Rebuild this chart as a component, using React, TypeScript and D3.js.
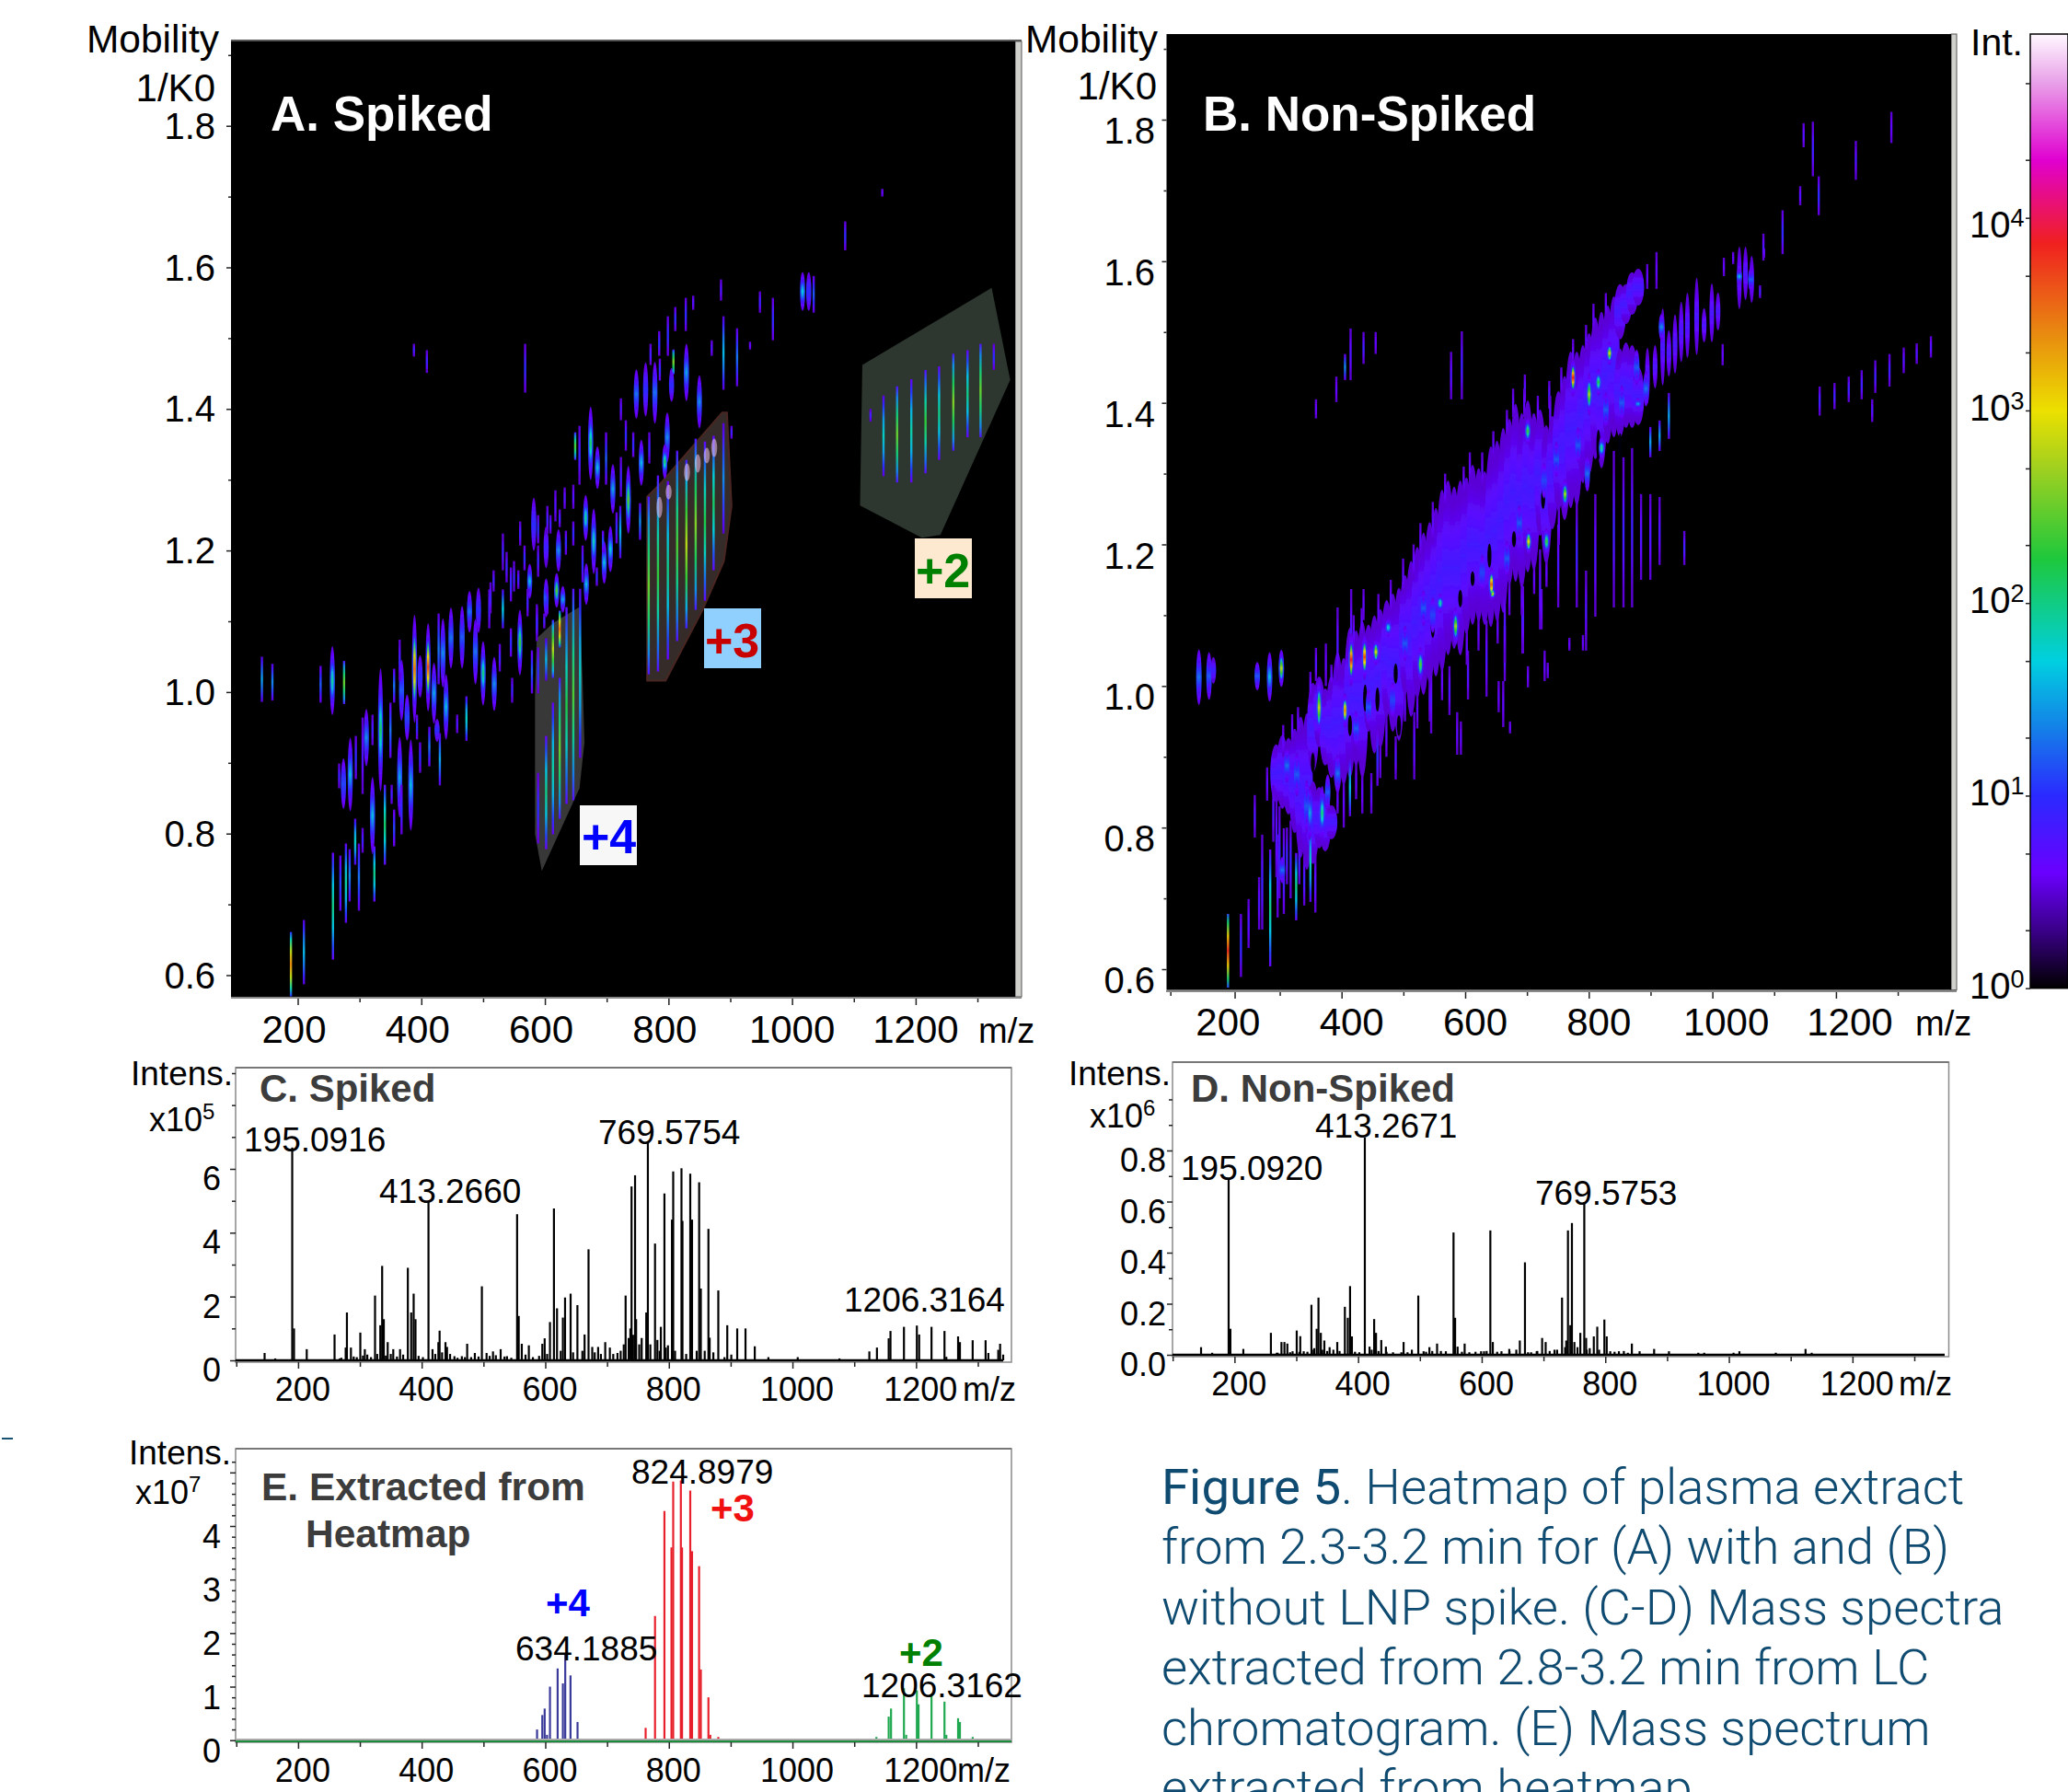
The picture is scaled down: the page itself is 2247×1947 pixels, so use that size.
import { useEffect, useRef } from 'react';
import * as d3 from 'd3';

type Streak = [number, number, number, number]; // m/z, mobility top, mobility bottom, log10 intensity
type Column = [number, number, number]; // m/z, mobility top, mobility bottom
type Peak = [number, number]; // m/z, intensity

// colour bar stops: log10 intensity -> colour
const colorExponents = [0, 0.3, 0.6, 1, 1.35, 1.7, 2.23, 2.7, 3, 3.4, 3.87, 4.3, 4.7, 4.955];
const colorValues = ['#000000', '#3a0088', '#6a00ff', '#2a2aff', '#1480e8', '#00d0e0', '#1ec83c', '#a0d020', '#ece000', '#e88a10', '#f02020', '#e000d0', '#e8a0e8', '#fff8ff'];

const mzLabels = [200, 400, 600, 800, 1000, 1200];
const mzMinor = [300, 500, 700, 900, 1100, 1300];
const mobLabels = [0.6, 0.8, 1.0, 1.2, 1.4, 1.6, 1.8];
const mobMinor = [0.7, 0.9, 1.1, 1.3, 1.5, 1.7, 1.9];

// Panel A, thin streaks
const aLines: Streak[] = [
  [142, 1.05, 0.986, 1.5], [159, 1.04, 0.988, 1.4], [237, 1.037, 0.985, 1.2], [275, 1.044, 0.983, 2.5], [356, 1.033, 0.985, 1.3],
  [350, 0.985, 0.907, 1.3], [365, 1.074, 1.016, 0.9], [393, 0.968, 0.933, 1], [305, 0.964, 0.856, 0.8], [294, 0.938, 0.877, 1],
  [267, 0.899, 0.864, 0.9], [413, 0.951, 0.895, 1.3], [398, 0.929, 0.886, 1], [430, 0.942, 0.868, 1.5], [458, 0.968, 0.942, 0.8],
  [473, 0.994, 0.931, 1.8], [428, 1.111, 1.011, 1.3], [527, 1.068, 1.029, 0.9], [545, 1.09, 1.05, 1], [547, 1.02, 0.985, 0.9],
  [579, 1.059, 0.998, 1.2], [532, 1.145, 1.09, 1.7], [510, 1.145, 1.09, 0.9], [356, 0.834, 0.782, 1.1], [368, 0.869, 0.799, 1],
  [352, 0.869, 0.842, 0.9], [341, 0.869, 0.756, 2.1], [324, 0.782, 0.704, 2], [305, 0.808, 0.773, 0.9], [293, 0.821, 0.756, 1.8],
  [299, 0.786, 0.691, 1.3], [284, 0.778, 0.704, 1.4], [278, 0.786, 0.674, 1.9], [269, 0.769, 0.691, 1.1], [257, 0.773, 0.622, 2],
  [210, 0.678, 0.587, 1.6], [189, 0.661, 0.57, 3.4], [321, 0.968, 0.925, 0.9],
  // charge +4 series
  [589, 1.063, 0.998, 1], [589, 0.886, 0.786, 1], [602, 1.076, 1.016, 1.6], [602, 0.938, 0.778, 2], [613, 1.102, 1.02, 2.8],
  [613, 0.985, 0.799, 1.9], [624, 1.115, 1.063, 3.5], [624, 1.02, 0.821, 2.5], [635, 1.12, 0.842, 2.2], [646, 1.146, 0.847, 2.4], [657, 1.146, 0.907, 1.8],
  // middle and upper band
  [568, 1.492, 1.423, 1], [885, 1.583, 1.553, 0.8], [948, 1.566, 1.536, 0.9], [969, 1.557, 1.497, 1], [870, 1.497, 1.475, 0.8],
  [932, 1.495, 1.484, 0.7], [1035, 1.588, 1.536, 1.2], [889, 1.531, 1.427, 1.6], [911, 1.514, 1.432, 1.3], [828, 1.557, 1.51, 1],
  [840, 1.56, 1.54, 0.8], [811, 1.544, 1.51, 1], [799, 1.531, 1.475, 1], [808, 1.484, 1.449, 2.6], [785, 1.51, 1.475, 1],
  [771, 1.492, 1.462, 0.9], [786, 1.471, 1.44, 1], [723, 1.415, 1.384, 0.8], [731, 1.384, 1.341, 1], [743, 1.367, 1.332, 1],
  [769, 1.367, 1.323, 0.9], [902, 1.376, 1.358, 0.9], [649, 1.367, 1.328, 2.4], [656, 1.376, 1.293, 0.9], [699, 1.367, 1.293, 1.2],
  [723, 1.332, 1.276, 0.9], [754, 1.267, 1.215, 1.4], [722, 1.263, 1.189, 1.6], [646, 1.293, 1.259, 0.8], [632, 1.289, 1.259, 0.8],
  [617, 1.285, 1.241, 0.8], [604, 1.263, 1.224, 0.9], [560, 1.241, 1.207, 0.9], [634, 1.228, 1.194, 1], [567, 1.207, 1.172, 1],
  [589, 1.207, 1.163, 0.9], [532, 1.224, 1.172, 0.9], [517, 1.172, 1.142, 0.9], [557, 1.172, 1.146, 0.9], [587, 1.124, 1.081, 0.9],
  // faint filler between the spots
  [589, 1.25, 1.21, 1], [609, 1.25, 1.224, 0.9], [624, 1.258, 1.233, 0.9], [512, 1.155, 1.111, 0.9], [545, 1.176, 1.128, 1],
  [538, 1.198, 1.155, 0.9], [550, 1.185, 1.142, 0.9], [646, 1.241, 1.207, 1], [661, 1.207, 1.155, 1], [684, 1.176, 1.15, 1],
  [694, 1.228, 1.198, 1.1], [716, 1.254, 1.21, 1], [572, 1.146, 1.107, 0.9], [587, 1.12, 1.072, 0.9], [604, 1.146, 1.11, 1], [599, 1.111, 1.09, 0.9],
  // charge +3 series
  [768, 1.276, 1.025, 2.5], [783, 1.306, 1.029, 2.3], [799, 1.298, 1.046, 2], [814, 1.341, 1.072, 2.4], [829, 1.328, 1.09, 2.8],
  [844, 1.358, 1.116, 2.6], [859, 1.354, 1.129, 2.2], [873, 1.362, 1.172, 2.1], [889, 1.38, 1.224, 1.4],
  // charge +2 series
  [1127, 1.4, 1.382, 0.9], [1148, 1.419, 1.305, 1.8], [1170, 1.432, 1.296, 2.5], [1193, 1.442, 1.296, 1.9], [1216, 1.455, 1.309, 2.3],
  [1238, 1.46, 1.328, 2], [1261, 1.478, 1.341, 2.6], [1284, 1.483, 1.36, 2], [1305, 1.492, 1.36, 2.5], [1326.5, 1.492, 1.455, 1],
  [1086, 1.665, 1.624, 1], [1146, 1.711, 1.7, 0.7], [388, 1.492, 1.474, 0.9], [409, 1.483, 1.451, 0.9],
];

// Panel A, wider spots
const aBlobs: Streak[] = [
  [256, 1.055, 0.977, 1.9], [334, 1.016, 0.877, 2.1], [368, 1.037, 0.968, 1.2], [377, 0.99, 0.938, 1.1], [389, 1.094, 0.972, 3.5],
  [411, 1.085, 0.985, 3.7], [398, 1.046, 0.998, 1], [420.5, 1.033, 0.964, 1.5], [435, 1.094, 1.016, 1.4], [448, 1.111, 1.042, 1.3],
  [440, 1.016, 0.942, 1.6], [425.5, 0.959, 0.933, 1], [466, 1.113, 1.042, 1.2], [478, 1.137, 1.09, 1.3], [492.5, 1.141, 1.09, 1],
  [487.6, 1.094, 1.02, 1.3], [500, 1.063, 0.99, 2], [518, 1.042, 0.981, 1.4], [559.5, 1.107, 1.033, 2.3], [383, 0.92, 0.817, 1.6],
  [365, 0.925, 0.834, 1.5], [321, 0.869, 0.782, 1.6], [311, 0.968, 0.903, 1.4], [285, 0.925, 0.842, 1.6], [274, 0.899, 0.842, 1.1],
  [1017, 1.588, 1.544, 1.7], [1027, 1.588, 1.544, 1], [829, 1.484, 1.419, 1.5], [805, 1.453, 1.415, 1], [778, 1.458, 1.388, 1.3],
  [763, 1.458, 1.397, 1], [748, 1.449, 1.393, 1.3], [850, 1.44, 1.38, 1.4], [798, 1.388, 1.332, 1.4], [794, 1.345, 1.306, 2.1],
  [756, 1.35, 1.298, 1.6], [674, 1.393, 1.31, 2.1], [685, 1.341, 1.293, 1.6], [710, 1.315, 1.259, 1.5], [735, 1.31, 1.233, 2.4],
  [666, 1.272, 1.22, 1.9], [679, 1.25, 1.176, 1.8], [706, 1.228, 1.176, 1.7], [696, 1.207, 1.159, 1.6], [667, 1.176, 1.129, 1.6],
  [582, 1.267, 1.207, 1], [602, 1.228, 1.181, 0.9], [622, 1.224, 1.176, 1.4], [575.4, 1.176, 1.137, 1.6], [602, 1.155, 1.111, 1.2],
  [619, 1.163, 1.124, 2.4], [629, 1.146, 1.116, 1.5],
];

// Pale caps on the +3 series
const aCaps: Streak[] = [
  [785.4, 1.276, 1.246, 4.8], [800.3, 1.293, 1.272, 4.8], [830, 1.323, 1.298, 4.8], [847.4, 1.336, 1.31, 4.8], [862, 1.345, 1.323, 4.8], [874, 1.358, 1.332, 4.8],
];

// Gate outlines in panel A, as m/z and mobility
const gate4: Peak[] = [[586.8, 1.076], [614, 1.098], [656, 1.12], [661, 1.016], [664, 0.929], [656, 0.864], [595, 0.7473], [584, 0.7993], [584, 0.998]];
const gate3: Peak[] = [[765.5, 1.276], [785.4, 1.293], [887, 1.395], [894.6, 1.395], [902, 1.263], [889.6, 1.185], [855, 1.116], [795.3, 1.016], [765.5, 1.016]];
const gate2: Peak[] = [[1113.7, 1.462], [1323, 1.571], [1353, 1.441], [1240, 1.222], [1210, 1.218], [1110, 1.2635]];

// Panel B, the violet cloud
const bCloud: Column[] = [
  [266.7, 0.911, 0.842], [276.6, 0.924, 0.833], [286.5, 0.92, 0.825], [296.5, 0.933, 0.799], [306.4, 0.95, 0.764], [316.3, 0.955, 0.747],
  [326.2, 0.998, 0.885], [326.2, 0.859, 0.755], [336.2, 1.007, 0.92], [336.2, 0.851, 0.777], [346, 0.99, 0.894], [346, 0.842, 0.773],
  [356, 1.007, 0.877], [356, 0.825, 0.79], [366, 1.041, 0.855], [376, 1.033, 0.868], [386, 1.076, 0.877], [396, 1.072, 0.894],
  [406, 1.085, 0.877], [416, 1.08, 0.942], [425.5, 1.093, 0.911], [435.4, 1.102, 0.92], [445.4, 1.115, 0.963], [455.3, 1.124, 0.942],
  [465.2, 1.132, 0.929], [475, 1.15, 0.994], [485, 1.17, 0.963], [495, 1.19, 0.99], [505, 1.21, 0.994], [515, 1.225, 1.011],
  [525, 1.245, 1.02], [535, 1.271, 1.028], [544.7, 1.284, 1.05], [554.6, 1.275, 1.059], [564.5, 1.284, 1.05], [574.4, 1.288, 1.08],
  [584.4, 1.306, 1.093], [594.3, 1.301, 1.098], [604, 1.297, 1.093], [614, 1.332, 1.09], [624, 1.34, 1.098], [634, 1.358, 1.11],
  [644, 1.371, 1.15], [654, 1.392, 1.154], [664, 1.379, 1.145], [673.7, 1.397, 1.167], [683.6, 1.379, 1.171], [693.6, 1.384, 1.219],
  [703.5, 1.362, 1.18], [713.4, 1.375, 1.228], [723.4, 1.41, 1.254], [733.3, 1.431, 1.241], [743.2, 1.466, 1.258], [753, 1.466, 1.262],
  [763, 1.475, 1.293], [773, 1.492, 1.306], [783, 1.514, 1.327], [793, 1.522, 1.314], [803, 1.531, 1.349], [813, 1.544, 1.358],
  [823, 1.561, 1.496], [823, 1.47, 1.358], [832.6, 1.561, 1.518], [832.6, 1.479, 1.371], [842.5, 1.578, 1.531], [842.5, 1.475, 1.371],
  [852.4, 1.583, 1.544], [852.4, 1.444, 1.375],
];

// Panel B, the thinner violet columns at the upper end of the band
const bSparse: Column[] = [
  [867.3, 1.475, 1.401], [879.7, 1.479, 1.423], [892, 1.531, 1.427], [902, 1.5, 1.44], [912, 1.522, 1.444], [922, 1.54, 1.46],
  [932, 1.553, 1.466], [947, 1.574, 1.47], [959, 1.531, 1.488], [971.5, 1.566, 1.488], [981.5, 1.553, 1.505], [1016, 1.618, 1.535],
  [1026, 1.618, 1.548], [1036, 1.605, 1.544],
];

// Panel B, dark gaps inside the cloud
const bHoles: Column[] = [
  [430.5, 0.994, 0.968], [465.2, 0.955, 0.933], [520, 1.098, 1.072], [326, 0.902, 0.881], [386, 0.955, 0.933], [410.6, 0.998, 0.968],
  [460, 1.028, 1.007], [564.5, 1.132, 1.115], [788, 1.358, 1.323], [823, 1.353, 1.314], [698.5, 1.275, 1.254], [651.4, 1.215, 1.2],
  [611.7, 1.197, 1.171], [584.4, 1.158, 1.145], [768, 1.297, 1.271],
];

// Panel B, thin streaks
const bLines: Streak[] = [
  [232, 0.846, 0.786, 0.8], [244, 0.79, 0.656, 0.9], [252, 0.885, 0.838, 0.7], [257, 0.769, 0.604, 2], [239, 0.73, 0.656, 0.8],
  [222, 0.699, 0.63, 0.8], [209.6, 0.678, 0.589, 1], [188.7, 0.678, 0.574, 3.8], [269, 0.79, 0.673, 0.9], [279, 0.799, 0.678, 1],
  [299, 0.764, 0.669, 2], [322, 0.803, 0.695, 1.8], [366, 1.111, 1.007, 0.8], [388, 1.137, 1.015, 0.8], [408, 1.137, 1.093, 0.7],
  [331, 1.054, 1.007, 0.8], [420.6, 0.877, 0.82, 0.8], [386, 0.898, 0.816, 1.6], [430.5, 0.942, 0.859, 1], [460, 0.929, 0.868, 0.8],
  [490, 0.963, 0.868, 0.8], [517.4, 1.028, 0.933, 0.8], [547, 1.028, 0.959, 0.8], [559.5, 0.963, 0.903, 0.7], [565.5, 0.95, 0.903, 0.7],
  [577, 1.05, 0.981, 0.8], [607, 1.093, 0.985, 0.8], [634, 1.007, 0.942, 0.7], [626.6, 1.007, 0.963, 0.7], [645, 0.95, 0.933, 0.7],
  [636.5, 1.085, 1.007, 0.9], [674, 1.028, 0.998, 0.7], [701, 1.05, 1.007, 0.7], [706, 1.033, 1.011, 0.7], [696, 1.137, 1.08, 0.7], [665, 1.137, 1.046, 0.8],
  [783, 1.271, 1.098, 0.8], [768, 1.163, 1.05, 0.8], [753, 1.262, 1.111, 0.9], [723, 1.228, 1.111, 0.8], [813, 1.332, 1.111, 0.9],
  [828.6, 1.323, 1.111, 0.9], [842.5, 1.336, 1.111, 0.9], [857, 1.271, 1.15, 0.8], [872, 1.271, 1.15, 0.8], [887, 1.267, 1.171, 0.8],
  [927, 1.219, 1.171, 0.9], [693.6, 1.193, 1.08, 0.8], [666, 1.141, 1.046, 0.8], [636.5, 1.141, 1.033, 0.8], [741, 1.068, 1.05, 0.7],
  [763, 1.072, 1.05, 0.7], [902, 1.414, 1.349, 1.5], [872, 1.366, 1.323, 1.5], [887, 1.375, 1.332, 1.5], [567, 1.501, 1.405, 0.9],
  [549.6, 1.472, 1.405, 0.8], [882, 1.613, 1.561, 0.7], [867, 1.596, 1.561, 0.7], [991, 1.605, 1.579, 0.7], [1006, 1.613, 1.596, 0.7],
  [1049.5, 1.566, 1.548, 0.9], [1056, 1.618, 1.605, 0.8], [989, 1.483, 1.453, 0.7], [669, 1.44, 1.401, 0.8], [708.5, 1.431, 1.392, 0.8],
  [1120, 1.795, 1.761, 0.8], [1135, 1.797, 1.72, 0.9], [1204.5, 1.77, 1.715, 0.8], [1262, 1.811, 1.767, 0.7], [1114.5, 1.706, 1.679, 0.8],
  [1144.5, 1.72, 1.665, 1], [1086, 1.672, 1.61, 1], [1055, 1.639, 1.601, 0.8], [1146, 1.423, 1.382, 0.9], [1170, 1.428, 1.391, 0.9],
  [1193, 1.437, 1.401, 0.9], [1214, 1.446, 1.405, 0.9], [1236, 1.46, 1.414, 0.9], [1259, 1.469, 1.423, 0.9], [1282, 1.478, 1.442, 0.8],
  [1303, 1.484, 1.455, 0.8], [1326, 1.494, 1.464, 0.8], [1231, 1.405, 1.373, 0.8], [331, 1.405, 1.378, 0.7], [364, 1.437, 1.401, 0.7],
  [378, 1.469, 1.432, 1.4], [387, 1.505, 1.432, 0.8], [408, 1.5, 1.455, 0.9], [427.6, 1.5, 1.469, 0.7],
  // streaks under the lower-left end of the band
  [262, 0.86, 0.78, 0.8], [267, 0.84, 0.73, 0.8], [272, 0.83, 0.7, 0.9], [284, 0.8, 0.72, 0.9], [290, 0.81, 0.7, 0.9],
  [304, 0.78, 0.72, 0.9], [312, 0.76, 0.69, 0.9], [330, 0.76, 0.68, 0.8],
  // spikes on the upper edge of the band
  [278, 0.945, 0.9, 0.7], [292.5, 0.96, 0.92, 0.7], [302, 0.97, 0.93, 0.7], [322, 1.02, 0.98, 0.7], [347, 1.06, 1.0, 0.7], [356, 1.03, 1.0, 0.7],
  [392, 1.1, 1.05, 0.7], [405, 1.11, 1.07, 0.7], [432, 1.13, 1.08, 0.7], [452, 1.15, 1.1, 0.7], [472, 1.18, 1.13, 0.7], [489, 1.2, 1.15, 0.7],
  [500, 1.23, 1.18, 0.7], [520, 1.26, 1.2, 0.7], [540, 1.3, 1.25, 0.7], [570, 1.31, 1.27, 0.7], [580, 1.33, 1.29, 0.7], [600, 1.33, 1.28, 0.7],
  [618, 1.36, 1.32, 0.7], [640, 1.39, 1.35, 0.7], [650, 1.42, 1.38, 0.7], [668, 1.42, 1.38, 0.7], [690, 1.41, 1.37, 0.7], [710, 1.41, 1.37, 0.7],
  [728, 1.45, 1.41, 0.7], [747, 1.49, 1.45, 0.7], [768, 1.51, 1.47, 0.7], [780, 1.54, 1.5, 0.7], [800, 1.555, 1.52, 0.7],
  // spikes on the lower edge of the band
  [366, 0.855, 0.82, 0.7], [376, 0.87, 0.8, 0.7], [396, 0.89, 0.84, 0.7], [406, 0.88, 0.82, 0.7], [435, 0.92, 0.87, 0.7], [445, 0.96, 0.9, 0.7],
  [475, 0.99, 0.95, 0.7], [495, 0.99, 0.94, 0.7], [515, 1.01, 0.95, 0.7], [535, 1.03, 0.98, 0.7], [575, 1.08, 1.03, 0.7], [594, 1.1, 1.05, 0.7],
  [625, 1.1, 1.06, 0.7], [644, 1.15, 1.1, 0.7], [664, 1.145, 1.1, 0.7], [684, 1.17, 1.13, 0.7], [704, 1.18, 1.14, 0.7], [724, 1.25, 1.2, 0.7],
];

// Panel B, bright spots on top of the cloud
const bBlobs: Streak[] = [
  [388, 1.067, 1.007, 3.9], [409.6, 1.067, 1.015, 3.7], [428, 1.063, 1.033, 2.9], [336, 1.002, 0.937, 2.8], [378, 0.985, 0.946, 3.4],
  [557, 1.106, 1.063, 2.7], [500, 1.05, 1.011, 2.4], [341, 0.851, 0.79, 2], [321, 0.851, 0.79, 1.5], [284, 0.907, 0.868, 1.3],
  [448, 1.093, 1.072, 1.7], [532, 1.128, 1.106, 1.9], [616.6, 1.137, 1.124, 3], [256, 1.041, 0.985, 1.6], [275, 1.046, 1.004, 2.8],
  [236, 1.03, 0.998, 1.2], [141.6, 1.044, 0.981, 1.3], [158, 1.041, 0.987, 1.2], [165, 1.037, 1.007, 0.9], [366, 0.898, 0.855, 1.3],
  [276.6, 0.755, 0.725, 1.3], [747, 1.457, 1.414, 3.9], [773, 1.436, 1.388, 2.7], [788, 1.444, 1.414, 2.2], [806, 1.483, 1.457, 2.9],
  [673.7, 1.375, 1.345, 2.3], [793, 1.349, 1.323, 2], [734, 1.288, 1.254, 2.7], [704, 1.219, 1.189, 2.3], [675, 1.219, 1.189, 3],
  [615, 1.163, 1.124, 3.6], [852, 1.405, 1.392, 1.5], [890, 1.522, 1.492, 1.4], [1016, 1.587, 1.57, 1.6], [1034.6, 1.587, 1.561, 1.2],
  // blue flecks in the cloud
  [300, 0.9, 0.85, 1.2], [316, 0.86, 0.8, 1.2], [350, 0.87, 0.83, 1.2], [396, 0.96, 0.92, 1.2], [416, 0.99, 0.95, 1.2], [455, 1.0, 0.96, 1.1],
  [475, 1.08, 1.04, 1.2], [505, 1.13, 1.09, 1.2], [520, 1.12, 1.08, 1.1], [600, 1.18, 1.14, 1.1], [640, 1.2, 1.16, 1.2], [660, 1.25, 1.21, 1.2],
  [700, 1.31, 1.27, 1.1], [720, 1.34, 1.3, 1.2], [755, 1.36, 1.32, 1.2], [770, 1.32, 1.28, 1.3], [800, 1.41, 1.37, 1.2], [826, 1.42, 1.38, 1.2],
  [850, 1.47, 1.43, 1.2], [865, 1.44, 1.4, 1.3],
];

const cPeaks: Peak[] = [
  [145.8, 0.23], [163, 0.06], [190.5, 6.67], [193.4, 1], [214, 0.35], [259, 0.81], [267.5, 0.06], [277, 0.4], [279, 1.5], [285.5, 0.4],
  [300.7, 0.87], [308, 0.35], [312, 0.18], [324.5, 2.03], [333, 1.1], [336, 2.96], [338.7, 1.29], [345, 0.57], [354, 0.35], [365, 0.35],
  [377.6, 2.9], [383, 1.5], [387, 2.09], [390, 1.29], [411, 4.97], [417.5, 0.35], [427, 0.57], [429, 0.93], [438.5, 0.57], [441, 0.42],
  [453, 0.13], [465, 0.13], [473.6, 0.52], [486, 0.23], [497.4, 2.32], [505, 0.23], [515.4, 0.28], [527.8, 0.35], [538, 0.13], [554.4, 4.58],
  [557, 1.39], [562, 0.52], [573.4, 0.47], [595.2, 0.52], [599, 0.69], [607.6, 1.2], [614, 4.76], [619, 1.63], [628.5, 1.34], [632, 1.97],
  [641, 2.09], [652, 1.73], [663.6, 0.81], [670, 3.48], [676, 0.42], [685.5, 0.42], [697, 0.57], [704.5, 0.4], [716.8, 0.23], [730, 2.03],
  [737.7, 1], [739.6, 5.45], [745.3, 5.8], [747, 1.29], [763.4, 1.5], [766, 6.87], [777.6, 3.66], [781.4, 0.64], [787, 1.05], [792.8, 5.23],
  [798.5, 0.47], [805, 4.41], [807, 5.92], [820.4, 6.02], [822, 4.37], [834.6, 5.85], [837.5, 4.41], [849, 5.58], [851.7, 2.25], [864, 4.12],
  [866, 0.71], [880, 2.19], [894.5, 1.1], [901, 0.18], [910.6, 1], [924, 1], [939, 0.44], [961, 0.1], [1008.5, 0.1], [1076, 0.06],
  [1124.4, 0.28], [1136.7, 0.4], [1155.7, 0.69], [1158.6, 0.92], [1180.4, 1.05], [1201.3, 1.09], [1205, 0.81], [1225, 1.05], [1246, 0.92], [1249, 0.11],
  [1268, 0.75], [1271, 0.57], [1291.6, 0.63], [1312.5, 0.63], [1317, 0.23], [1333, 0.33], [1336, 0.52], [1341, 0.18],
  // low peaks along the baseline
  [270, 0.08], [290, 0.12], [295, 0.1], [305, 0.15], [318, 0.1], [328, 0.2], [342, 0.15], [350, 0.2], [360, 0.12], [370, 0.18],
  [395, 0.14], [402, 0.1], [422, 0.2], [433, 0.25], [446, 0.2], [458, 0.08], [470, 0.1], [480, 0.1], [492, 0.12], [510, 0.14],
  [520, 0.16], [534, 0.12], [545, 0.08], [568, 0.18], [580, 0.1], [590, 0.14], [603, 0.2], [625, 0.3], [645, 0.25], [660, 0.3],
  [680, 0.25], [690, 0.2], [710, 0.2], [722, 0.3], [727, 0.5], [735, 0.7], [742, 0.8], [752, 0.5], [756, 0.7], [770, 0.5],
  [785, 0.3], [795, 0.4], [810, 0.3], [828, 0.2], [845, 0.3], [858, 0.3], [872, 0.25], [890, 0.1],
];

const dPeaks: Peak[] = [
  [145.9, 0.03], [163.9, 0.008], [190.5, 0.69], [193.4, 0.102], [214.3, 0.023], [258.9, 0.086], [268.4, 0.008], [276, 0.05], [280.8, 0.05], [285.5, 0.044],
  [294, 0.014], [300.7, 0.095], [306.4, 0.073], [312, 0.014], [324.5, 0.196], [329, 0.026], [333, 0.102], [335.9, 0.224], [339.7, 0.086], [345.4, 0.056],
  [353.9, 0.03], [366.3, 0.05], [378.6, 0.188], [383.4, 0.145], [387, 0.269], [390, 0.072], [410.9, 0.851], [418.5, 0.032], [426, 0.14], [429, 0.086],
  [437.5, 0.058], [445, 0.032], [456.5, 0.01], [473.6, 0.05], [487, 0.02], [497.4, 0.232], [506, 0.014], [515.4, 0.03], [527.8, 0.044], [542, 0.014],
  [554.4, 0.479], [557, 0.145], [561, 0.032], [572.4, 0.044], [599, 0.014], [603.8, 0.014], [614, 0.487], [618, 0.05], [632, 0.014], [644.6, 0.023],
  [656, 0.02], [661.7, 0.056], [670, 0.362], [675, 0.01], [689, 0.014], [697.8, 0.066], [703.5, 0.05], [717.8, 0.02], [730, 0.224], [736.8, 0.056],
  [739.6, 0.487], [743.4, 0.116], [746, 0.516], [759.6, 0.086], [766, 0.598], [769, 0.066], [774.8, 0.026], [781.4, 0.072], [787, 0.11], [798.5, 0.138],
  [802.3, 0.072], [808, 0.014], [822, 0.014], [836.5, 0.008], [843, 0.044], [855.5, 0.014], [879, 0.023], [903, 0.014], [950.5, 0.008], [960, 0.008],
  [1007.5, 0.008], [1017, 0.014], [1075.9, 0.008], [1124, 0.023], [1134, 0.008],
  // low peaks along the baseline
  [270, 0.008], [290, 0.01], [305, 0.012], [318, 0.012], [328, 0.02], [342, 0.02], [350, 0.015], [360, 0.02], [370, 0.015], [395, 0.012],
  [402, 0.01], [422, 0.02], [433, 0.015], [446, 0.012], [470, 0.01], [480, 0.01], [510, 0.012], [520, 0.015], [534, 0.015], [568, 0.012],
  [580, 0.01], [590, 0.012], [608, 0.015], [625, 0.012], [645, 0.015], [680, 0.01], [690, 0.015], [710, 0.015], [722, 0.02], [735, 0.03],
  [750, 0.05], [755, 0.03], [770, 0.02], [790, 0.02], [815, 0.012], [830, 0.015],
];

const ePlus4: Peak[] = [[586.7, 0.2], [595.2, 0.47], [599, 0.59], [602.8, 0.1], [607.6, 1], [610.4, 0.03], [620, 1.34], [628.5, 1.06], [632.3, 1.62], [640.8, 1.21], [652.2, 0.34]];
const ePlus3: Peak[] = [[762.4, 0.23], [777.6, 2.32], [792.8, 4.28], [804.2, 3.6], [807, 4.83], [819.4, 4.85], [821.3, 3.6], [834.6, 4.66], [837.5, 3.53], [848.9, 3.25], [851.7, 1.32], [864, 0.8], [867, 0.1], [880, 0.06]];
const ePlus2: Peak[] = [[1135.8, 0.06], [1155.7, 0.44], [1159.5, 0.59], [1180.4, 0.97], [1184, 0.1], [1201.3, 0.93], [1204, 0.67], [1225, 0.87], [1246, 0.72], [1249, 0.1], [1268, 0.41], [1271, 0.34], [1291.6, 0.06]];

const captionLines = [
  'Heatmap of plasma extract',
  'from 2.3-3.2 min for (A) with and (B)',
  'without LNP spike. (C-D) Mass spectra',
  'extracted from 2.8-3.2 min from LC',
  'chromatogram. (E) Mass spectrum',
  'extracted from heatmap',
];

const SANS = '"Liberation Sans", Arial, sans-serif';
const colorOf = d3.scaleLinear<string>().domain(colorExponents).range(colorValues).clamp(true);
const profile = [[0, 0.3], [0.12, 0.55], [0.3, 0.82], [0.5, 1], [0.7, 0.82], [0.88, 0.55], [1, 0.3]];

export default function App() {
  const svgRef = useRef<SVGSVGElement>(null);

  useEffect(() => {
    if (!svgRef.current) return;
    const svg = d3.select(svgRef.current);
    svg.selectAll('*').remove();
    const defs = svg.append('defs');

    const label = (x: number, y: number, text: string, size: number, opts: any = {}) =>
      svg.append('text')
        .attr('x', x).attr('y', y)
        .attr('font-family', opts.family || SANS)
        .attr('font-size', size)
        .attr('font-weight', opts.weight || 'normal')
        .attr('text-anchor', opts.anchor || 'start')
        .attr('fill', opts.fill || '#000')
        .text(text);

    const power = (x: number, y: number, base: string, exp: string, size: number, supSize: number, lift: number) => {
      const t = label(x, y, base, size);
      t.append('tspan').attr('font-size', supSize).attr('dy', -lift).text(exp);
    };

    // one shared vertical gradient per intensity level; ends never fall below violet
    const gradientFor = (level: number) => {
      const id = `lvl-${String(level).replace('.', '_')}`;
      if (defs.select(`#${id}`).empty()) {
        const grad = defs.append('linearGradient').attr('id', id).attr('x1', 0).attr('x2', 0).attr('y1', 0).attr('y2', 1);
        profile.forEach(([o, f]) => {
          grad.append('stop').attr('offset', o).attr('stop-color', colorOf(Math.max(level * f, 0.5)));
        });
      }
      return `url(#${id})`;
    };

    defs.append('filter').attr('id', 'soft').append('feGaussianBlur').attr('stdDeviation', 0.7);

    const drawLines = (g: any, data: Streak[], x: any, y: any) => {
      g.selectAll(null).data(data).join('rect')
        .attr('x', (d: Streak) => x(d[0]) - 1.2)
        .attr('y', (d: Streak) => y(d[1]))
        .attr('width', 2.4)
        .attr('height', (d: Streak) => y(d[2]) - y(d[1]))
        .attr('fill', (d: Streak) => gradientFor(d[3]));
    };

    // a spot: a dim blue body with a narrow core at the peak colour
    const drawBlobs = (g: any, data: Streak[], x: any, y: any, rx: number) => {
      const cy = (d: Streak) => (y(d[1]) + y(d[2])) / 2;
      g.selectAll(null).data(data).join('ellipse')
        .attr('cx', (d: Streak) => x(d[0]))
        .attr('cy', cy)
        .attr('rx', rx)
        .attr('ry', (d: Streak) => ((y(d[2]) - y(d[1])) / 2) * 1.25)
        .attr('fill', (d: Streak) => gradientFor(Math.min(d[3], 1.15)));
      g.selectAll(null).data(data.filter((d) => d[3] > 1.15)).join('ellipse')
        .attr('cx', (d: Streak) => x(d[0]))
        .attr('cy', cy)
        .attr('rx', rx * 0.5)
        .attr('ry', (d: Streak) => ((y(d[2]) - y(d[1])) / 2) * 0.75)
        .attr('fill', (d: Streak) => gradientFor(d[3]));
    };

    const drawColumns = (g: any, data: Column[], x: any, y: any, rx: number, pad: number, fill: string) => {
      g.selectAll(null).data(data).join('ellipse')
        .attr('cx', (d: Column) => x(d[0]))
        .attr('cy', (d: Column) => (y(d[1]) + y(d[2])) / 2)
        .attr('rx', rx)
        .attr('ry', (d: Column) => (y(d[2]) - y(d[1])) / 2 + pad)
        .attr('fill', fill);
    };

    const heatFrame = (id: string, left: number, right: number, top: number, bottom: number, bandRight: number) => {
      svg.append('rect').attr('x', right).attr('y', top).attr('width', bandRight - right).attr('height', bottom - top)
        .attr('fill', '#d0d0cc').attr('stroke', '#555').attr('stroke-width', 1);
      svg.append('rect').attr('x', left).attr('y', top).attr('width', right - left).attr('height', bottom - top).attr('fill', '#000');
      defs.append('clipPath').attr('id', id).append('rect').attr('x', left).attr('y', top).attr('width', right - left).attr('height', bottom - top);
      return svg.append('g').attr('clip-path', `url(#${id})`);
    };

    const ticksLeft = (scale: any, x: number, major: number[], minor: number[], long: number, short: number) => {
      const axis = svg.append('g').attr('transform', `translate(${x},0)`);
      axis.call(d3.axisLeft(scale).tickValues(major).tickSize(long).tickFormat(() => '') as any);
      axis.call((s: any) => s.select('.domain').remove());
      const axis2 = svg.append('g').attr('transform', `translate(${x},0)`);
      axis2.call(d3.axisLeft(scale).tickValues(minor).tickSize(short).tickFormat(() => '') as any);
      axis2.call((s: any) => s.select('.domain').remove());
      svg.selectAll('.tick line').attr('stroke', '#222').attr('stroke-width', 1.5);
    };

    const ticksBottom = (scale: any, y: number, major: number[], minor: number[], long: number, short: number) => {
      const axis = svg.append('g').attr('transform', `translate(0,${y})`);
      axis.call(d3.axisBottom(scale).tickValues(major).tickSize(long).tickFormat(() => '') as any);
      axis.call((s: any) => s.select('.domain').remove());
      const axis2 = svg.append('g').attr('transform', `translate(0,${y})`);
      axis2.call(d3.axisBottom(scale).tickValues(minor).tickSize(short).tickFormat(() => '') as any);
      axis2.call((s: any) => s.select('.domain').remove());
      svg.selectAll('.tick line').attr('stroke', '#222').attr('stroke-width', 1.5);
    };

    // 4-digit tick labels sit a little further right than 3-digit ones
    const wide = (m: number) => (m >= 1000 ? 4 : 0);

    // ---- Panel A
    const xA = d3.scaleLinear().domain([92, 1361]).range([251, 1103]);
    const yA = d3.scaleLinear().domain([0.6, 1.8]).range([1059.5, 136.7]);
    const gA = heatFrame('clipA', 251, 1103, 45, 1083, 1110);
    svg.append('line').attr('x1', 251).attr('x2', 1110).attr('y1', 44).attr('y2', 44).attr('stroke', '#555').attr('stroke-width', 2);
    svg.append('line').attr('x1', 251).attr('x2', 1110).attr('y1', 1084).attr('y2', 1084).attr('stroke', '#888').attr('stroke-width', 2);
    const gateLine = d3.line<Peak>().x((d) => xA(d[0])).y((d) => yA(d[1]));
    gA.append('path').attr('d', gateLine(gate4) + 'Z').attr('fill', '#383838');
    gA.append('path').attr('d', gateLine(gate3) + 'Z').attr('fill', '#352c2a').attr('stroke', '#4a2622').attr('stroke-width', 2);
    gA.append('path').attr('d', gateLine(gate2) + 'Z').attr('fill', '#2d362f');
    drawBlobs(gA.append('g').attr('filter', 'url(#soft)'), aBlobs, xA, yA, 2.8);
    drawLines(gA, aLines, xA, yA);
    gA.append('g').attr('filter', 'url(#soft)').selectAll(null).data(aCaps).join('ellipse')
      .attr('cx', (d: Streak) => xA(d[0]))
      .attr('cy', (d: Streak) => (yA(d[1]) + yA(d[2])) / 2)
      .attr('rx', 3.2)
      .attr('ry', (d: Streak) => (yA(d[2]) - yA(d[1])) / 2)
      .attr('fill', (d: Streak) => colorOf(d[3]))
      .attr('opacity', 0.55);
    ticksLeft(yA, 251, mobLabels, mobMinor, 5, 3);
    ticksBottom(xA, 1085, mzLabels, mzMinor, 7, 4);
    mobLabels.forEach((m) => label(234, yA(m) + 14, m.toFixed(1), 40, { anchor: 'end' }));
    mzLabels.forEach((m) => label(xA(m) - 4 + wide(m), 1133, String(m), 42, { anchor: 'middle' }));
    label(1063, 1133, 'm/z', 38);
    label(238, 57, 'Mobility', 42.5, { anchor: 'end' });
    label(234, 110, '1/K0', 42, { anchor: 'end' });
    label(294, 142, 'A. Spiked', 53, { weight: 'bold', fill: '#fff' });

    const badge = (x: number, y: number, w: number, h: number, bg: string, text: string, fill: string, tx: number, ty: number) => {
      svg.append('rect').attr('x', x).attr('y', y).attr('width', w).attr('height', h).attr('fill', bg);
      label(tx, ty, text, 52, { weight: 'bold', fill });
    };
    badge(630, 875, 62, 65, '#f7f7f7', '+4', '#0000ff', 632, 927);
    badge(765, 661, 62, 65, '#90d0ff', '+3', '#c80000', 766, 714);
    badge(994, 585, 62, 65, '#fde8d0', '+2', '#008000', 995, 638);

    // ---- Panel B; its tick marks sit on their own scale, off from the data
    const xB = d3.scaleLinear().domain([200, 1300]).range([1341.9, 2080.6]);
    const xBTicks = d3.scaleLinear().domain([400, 1200]).range([1457.7, 1994.9]);
    const yB = d3.scaleLinear().domain([0.6, 1.8]).range([1053, 130]);
    const gB = heatFrame('clipB', 1267.5, 2120, 37, 1075.6, 2126);
    const gCloud = gB.append('g').attr('filter', 'url(#soft)');
    drawColumns(gCloud, bCloud, xB, yB, 6.5, 5, gradientFor(0.85));
    drawColumns(gCloud, bSparse, xB, yB, 2.6, 2, gradientFor(0.8));
    drawColumns(gCloud, bHoles, xB, yB, 2.2, 3, '#06000f');
    drawLines(gB, bLines, xB, yB);
    drawBlobs(gB.append('g').attr('filter', 'url(#soft)'), bBlobs, xB, yB, 3);
    svg.append('line').attr('x1', 1267).attr('x2', 2126).attr('y1', 1077).attr('y2', 1077).attr('stroke', '#888').attr('stroke-width', 2);
    ticksLeft(yB, 1267.5, mobLabels, mobMinor, 5, 3);
    ticksBottom(xBTicks, 1078, [227, 400, 600, 800, 1000, 1200], [123, 300, 500, 700, 900, 1100, 1300], 7, 4);
    mobLabels.forEach((m) => label(1255, yB(m) + 26, m.toFixed(1), 40, { anchor: 'end' }));
    mzLabels.forEach((m) => label(xBTicks(m) + 11 + wide(m), 1125, String(m), 42, { anchor: 'middle' }));
    label(2081, 1125, 'm/z', 38);
    label(1258, 57, 'Mobility', 42.5, { anchor: 'end' });
    label(1257, 108, '1/K0', 42, { anchor: 'end' });
    label(1307, 142, 'B. Non-Spiked', 53, { weight: 'bold', fill: '#fff' });

    // ---- Intensity colour bar
    const yColor = d3.scaleLog().domain([1, 90000]).range([1073.7, 37]);
    const barGrad = defs.append('linearGradient').attr('id', 'bar').attr('x1', 0).attr('x2', 0).attr('y1', 1).attr('y2', 0);
    colorExponents.forEach((e, i) => {
      barGrad.append('stop').attr('offset', e / 4.955).attr('stop-color', colorValues[i]);
    });
    svg.append('rect').attr('x', 2206).attr('y', 37).attr('width', 41).attr('height', 1036.7)
      .attr('fill', 'url(#bar)').attr('stroke', '#000').attr('stroke-width', 1.5);
    const decades = [1, 10, 100, 1000, 10000];
    const decadeMinor = decades.flatMap((v) => [2 * v, 5 * v]).filter((v) => v < 90000);
    ticksLeft(yColor, 2206, decades, decadeMinor, 5, 5);
    decades.forEach((v, i) => power(2140, yColor(v) + (i === 4 ? 21 : 11), '10', String(i), 40, 27, 12));
    label(2141, 60, 'Int.', 41);

    // ---- Spectra
    const drawPeaks = (data: Peak[], x: any, y: any, color: string, width: number) => {
      svg.append('g').selectAll(null).data(data).join('line')
        .attr('x1', (d: Peak) => x(d[0])).attr('x2', (d: Peak) => x(d[0]))
        .attr('y1', y(0)).attr('y2', (d: Peak) => y(d[1]))
        .attr('stroke', color).attr('stroke-width', width);
    };
    const frame = (left: number, right: number, top: number, bottom: number) => {
      svg.append('rect').attr('x', left).attr('y', top).attr('width', right - left).attr('height', bottom - top)
        .attr('fill', '#fff').attr('stroke', '#8a8a8a').attr('stroke-width', 1.5);
      svg.append('line').attr('x1', left).attr('x2', right).attr('y1', top).attr('y2', top).attr('stroke', '#777').attr('stroke-width', 2);
    };
    const intensLabel = (x: number, y: number, x2: number, y2: number, exp: string) => {
      label(x, y, 'Intens.', 37);
      power(x2, y2, 'x10', exp, 36, 24, 13);
    };

    // C
    const xC = d3.scaleLinear().domain([100, 1300]).range([256.75, 1062.5]);
    const yC = d3.scaleLinear().domain([0, 6]).range([1478, 1270]);
    frame(256, 1099, 1160, 1480);
    drawPeaks(cPeaks, xC, yC, '#000', 2.2);
    svg.append('line').attr('x1', 256).attr('x2', 1090).attr('y1', 1478).attr('y2', 1478).attr('stroke', '#000').attr('stroke-width', 2.5);
    ticksLeft(yC, 256, [0, 2, 4, 6], [1, 3, 5, 7, 8, 9], 6, 4);
    ticksBottom(xC, 1480, mzLabels, [100, ...mzMinor], 7, 5);
    [0, 2, 4, 6].forEach((v) => label(240, yC(v) + 23, String(v), 36, { anchor: 'end' }));
    mzLabels.forEach((m) => label(xC(m) + 5, 1522, String(m), 36, { anchor: 'middle' }));
    label(1046, 1522, 'm/z', 36);
    intensLabel(142, 1179, 162, 1229, '5');
    label(282, 1197, 'C. Spiked', 42, { weight: 'bold', fill: '#3c3c3c' });
    label(265, 1251, '195.0916', 37);
    label(412, 1307, '413.2660', 37);
    label(650, 1243, '769.5754', 37);
    label(917, 1425, '1206.3164', 37);

    // D
    const xD = d3.scaleLinear().domain([100, 1300]).range([1274.2, 2080]);
    const yD = d3.scaleLinear().domain([0, 0.8]).range([1472, 1250]);
    frame(1274, 2117.5, 1154, 1474);
    drawPeaks(dPeaks, xD, yD, '#000', 2.2);
    svg.append('line').attr('x1', 1274).attr('x2', 2113).attr('y1', 1472).attr('y2', 1472).attr('stroke', '#000').attr('stroke-width', 2.5);
    ticksLeft(yD, 1274, [0, 0.2, 0.4, 0.6, 0.8], [0.1, 0.3, 0.5, 0.7, 0.9, 1.0], 6, 4);
    ticksBottom(xD, 1474, mzLabels, [100, ...mzMinor], 7, 5);
    [0, 0.2, 0.4, 0.6, 0.8].forEach((v) => label(1267, yD(v) + 23, v.toFixed(1), 36, { anchor: 'end' }));
    mzLabels.forEach((m) => label(xD(m) + 5, 1516, String(m), 36, { anchor: 'middle' }));
    label(2063, 1516, 'm/z', 36);
    intensLabel(1161, 1179, 1184, 1225, '6');
    label(1294, 1197, 'D. Non-Spiked', 42, { weight: 'bold', fill: '#3c3c3c' });
    label(1283, 1282, '195.0920', 37);
    label(1429, 1236, '413.2671', 37);
    label(1668, 1309, '769.5753', 37);

    // E
    const xE = d3.scaleLinear().domain([100, 1300]).range([256.75, 1062.5]);
    const yE = d3.scaleLinear().domain([0, 4]).range([1890.7, 1658]);
    frame(256, 1099, 1574, 1893);
    drawPeaks(ePlus4, xE, yE, '#3a3a9a', 2.2);
    drawPeaks(ePlus3, xE, yE, '#e8202c', 2.2);
    drawPeaks(ePlus2, xE, yE, '#20a850', 2.2);
    svg.append('line').attr('x1', 256).attr('x2', 1099).attr('y1', 1890).attr('y2', 1890).attr('stroke', '#aaa').attr('stroke-width', 2);
    svg.append('line').attr('x1', 256).attr('x2', 1099).attr('y1', 1892).attr('y2', 1892).attr('stroke', '#1a8c3c').attr('stroke-width', 2);
    const eMinor = d3.range(0, 27).map((i) => i * 0.2).filter((v) => Math.abs(v - Math.round(v)) > 0.01);
    ticksLeft(yE, 256, [0, 1, 2, 3, 4, 5], eMinor, 6, 4);
    ticksBottom(xE, 1893, mzLabels, [100, ...mzMinor], 7, 5);
    [0, 1, 2, 3, 4].forEach((v) => label(240, yE(v) + 24, String(v), 36, { anchor: 'end' }));
    mzLabels.forEach((m) => label(xE(m) + 5, 1936, String(m), 36, { anchor: 'middle' }));
    label(1040, 1936, 'm/z', 36);
    intensLabel(140, 1591, 147, 1634, '7');
    label(284, 1630, 'E. Extracted from', 42.5, { weight: 'bold', fill: '#3c3c3c' });
    label(332, 1681, 'Heatmap', 42.5, { weight: 'bold', fill: '#3c3c3c' });
    label(686, 1612, '824.8979', 37);
    label(772, 1653, '+3', 42, { weight: 'bold', fill: '#f01010' });
    label(593, 1756, '+4', 42, { weight: 'bold', fill: '#0000ff' });
    label(560, 1804, '634.1885', 37);
    label(977, 1810, '+2', 42, { weight: 'bold', fill: '#008000' });
    label(936, 1844, '1206.3162', 37);

    // stray dash at the left edge of the picture
    svg.append('line').attr('x1', 2).attr('x2', 14).attr('y1', 1563).attr('y2', 1563).attr('stroke', '#1a5276').attr('stroke-width', 2);

    // ---- Caption
    const capFill = '#0f4a70';
    const first = label(1262, 1634, 'Figure 5', 54.5, { family: 'Roboto, sans-serif', weight: 400, fill: capFill });
    first.append('tspan').attr('font-weight', 300).text('. ' + captionLines[0]);
    captionLines.slice(1).forEach((line, i) => {
      label(1262, 1699 + i * 65.5, line, 54.5, { family: 'Roboto, sans-serif', weight: 300, fill: capFill });
    });
  }, []);

  return (
    <svg
      ref={svgRef}
      width={2247}
      height={1947}
      style={{ position: 'absolute', left: 0, top: 0, display: 'block', background: '#fff' }}
    />
  );
}
